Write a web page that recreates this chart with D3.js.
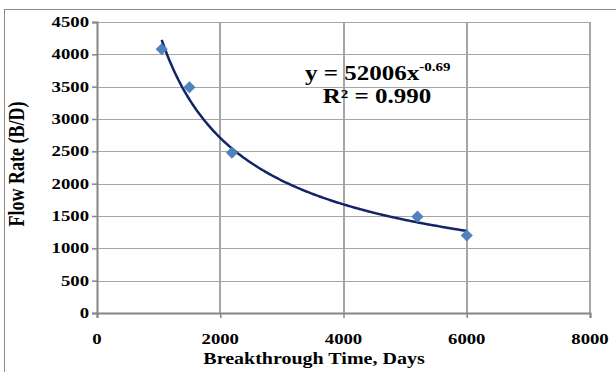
<!DOCTYPE html>
<html><head><meta charset="utf-8">
<script src="https://cdn.jsdelivr.net/npm/d3@7"></script>
<style>body{margin:0;background:#fff}svg{display:block}</style>
</head><body>
<script>
const xValues = [1050, 1500, 2190, 5200, 6000];
const yValues = [4080, 3490, 2480, 1490, 1200];
const xTicks = [0, 2000, 4000, 6000, 8000];
const yTicks = [0, 500, 1000, 1500, 2000, 2500, 3000, 3500, 4000, 4500];
const xTitle = "Breakthrough Time, Days";
const yTitle = "Flow Rate (B/D)";
const eqMain = "y = 52006x";
const eqExp = "-0.69";
const r2Text = "R² = 0.990";

const W = 616, H = 372;
const m = {l: 97, r: 590, t: 22, b: 313};
const SX = 1.25;
const FONT = "'Liberation Serif', 'Times New Roman', serif";

const svg = d3.select("body").append("svg").attr("width", W).attr("height", H);
svg.append("rect").attr("x", 4.5).attr("y", 9.5).attr("width", W + 10).attr("height", H + 10)
  .attr("fill", "#fff").attr("stroke", "#8c8c8c").attr("stroke-width", 1);

const x = d3.scaleLinear().domain([0, 8000]).range([m.l, m.r]);
const y = d3.scaleLinear().domain([0, 4500]).range([m.b, m.t]);

// gridlines
svg.append("g").selectAll("line").data(yTicks.filter(d => d > 0)).join("line")
  .attr("x1", m.l).attr("x2", m.r).attr("y1", d => Math.round(y(d)) + 0.5).attr("y2", d => Math.round(y(d)) + 0.5)
  .attr("stroke", "#a6a6a6").attr("stroke-width", 1);
svg.append("g").selectAll("line").data(xTicks.filter(d => d > 0)).join("line")
  .attr("y1", m.t).attr("y2", m.b).attr("x1", d => Math.round(x(d))).attr("x2", d => Math.round(x(d)))
  .attr("stroke", "#a6a6a6").attr("stroke-width", 2);

// axes
const xAxis = svg.append("g").attr("transform", `translate(0,${m.b})`)
  .call(d3.axisBottom(x).tickValues(xTicks).tickSize(5).tickFormat(""));
const yAxis = svg.append("g").attr("transform", `translate(${m.l},0)`)
  .call(d3.axisLeft(y).tickValues(yTicks).tickSize(5).tickFormat(""));
[xAxis, yAxis].forEach(g => {
  g.select(".domain").attr("stroke", "#868686").attr("stroke-width", 2);
  g.selectAll(".tick line").attr("stroke", "#868686").attr("stroke-width", 1.5);
});

function stext(px, py, txt, size, anchor) {
  return svg.append("text")
    .attr("transform", `translate(${px},${py}) scale(${SX},1)`)
    .attr("text-anchor", anchor).attr("font-family", FONT).attr("font-weight", "bold")
    .attr("font-size", size).attr("fill", "#000").text(txt);
}
yTicks.forEach(v => stext(89, y(v) + 5, v, 15, "end"));
xTicks.forEach(v => stext(x(v), 344, v, 15, "middle"));
stext(314, 364, xTitle, 16, "middle");
svg.append("text").attr("transform", `translate(24,164) rotate(-90) scale(1,${SX})`)
  .attr("text-anchor", "middle").attr("font-family", FONT).attr("font-weight", "bold")
  .attr("font-size", 18).text(yTitle);

// trendline: least squares power fit in log space
const lx = xValues.map(Math.log), ly = yValues.map(Math.log);
const mx = d3.mean(lx), my = d3.mean(ly);
const bCoef = d3.sum(lx, (v, i) => (v - mx) * (ly[i] - my)) / d3.sum(lx, v => (v - mx) ** 2);
const aCoef = Math.exp(my - bCoef * mx);
const xs = d3.range(200).map(i => d3.min(xValues) + (d3.max(xValues) - d3.min(xValues)) * i / 199);
svg.append("path").datum(xs)
  .attr("d", d3.line().x(d => x(d)).y(d => y(aCoef * Math.pow(d, bCoef))).curve(d3.curveBasis))
  .attr("fill", "none").attr("stroke", "#13256a").attr("stroke-width", 2.5);

// markers (diamonds)
const sym = d3.symbol().type(d3.symbolDiamond2).size(85);
svg.append("g").selectAll("path").data(xValues).join("path")
  .attr("transform", (d, i) => `translate(${x(d)},${y(yValues[i])})`)
  .attr("d", sym).attr("fill", "#4f81bd").attr("stroke", "#4a7ab5").attr("stroke-width", 0.5);

// equation labels
const eq = svg.append("text").attr("transform", `translate(305,80) scale(${SX},1)`)
  .attr("font-family", FONT).attr("font-weight", "bold").attr("font-size", 20);
eq.append("tspan").text(eqMain);
eq.append("tspan").attr("dy", -9).attr("font-size", 12).text(eqExp);
stext(377, 103, r2Text, 20, "middle");
</script>
</body></html>
